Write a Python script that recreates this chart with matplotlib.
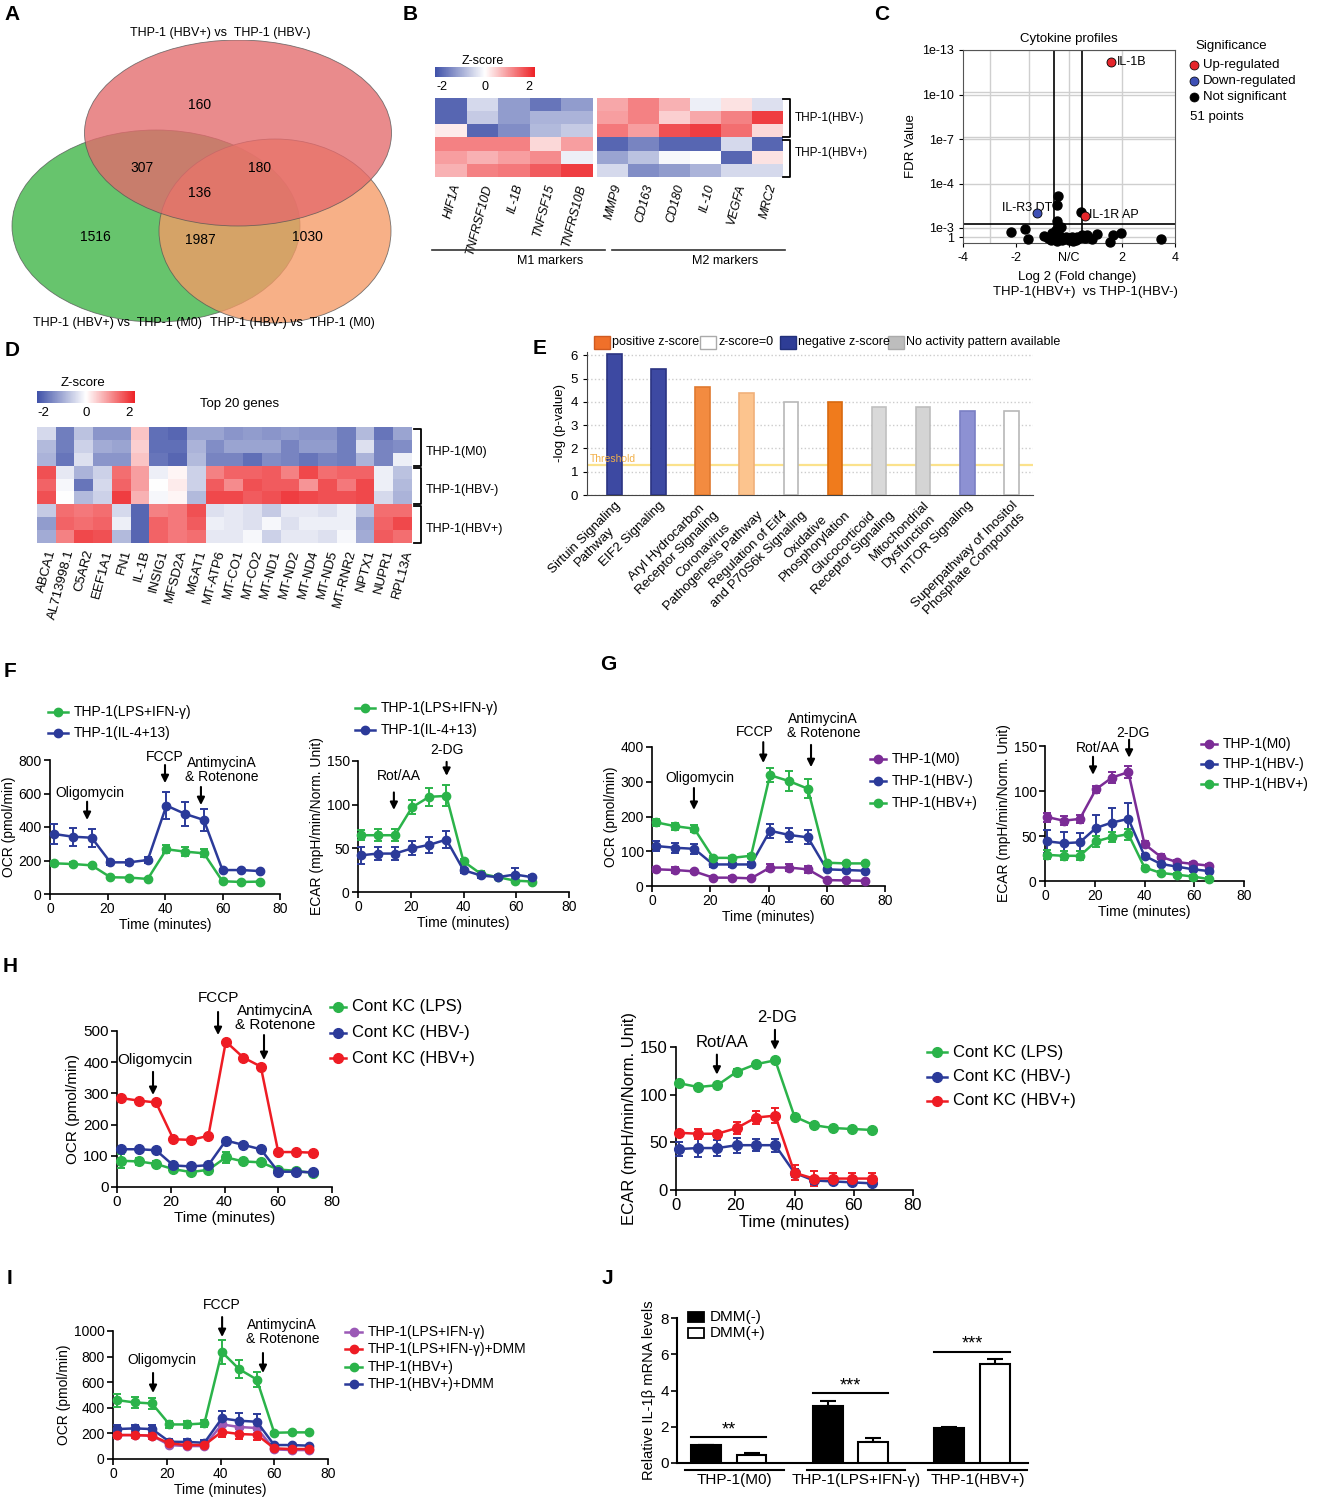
import numpy as np
import matplotlib
matplotlib.use('Agg')
import matplotlib.pyplot as plt
from matplotlib.patches import Ellipse, Rectangle
from matplotlib.lines import Line2D
from matplotlib.colors import LinearSegmentedColormap

plt.rcParams['font.family'] = ['Liberation Sans', 'DejaVu Sans']
plt.rcParams['axes.unicode_minus'] = False

# ---------------- data ----------------
venn_counts = [160, 307, 136, 180, 1516, 1987, 1030]
venn_sets = ['THP-1 (HBV+) vs  THP-1 (HBV-)', 'THP-1 (HBV+) vs  THP-1 (M0)', 'THP-1 (HBV-) vs  THP-1 (M0)']

b_m1 = ['HIF1A', 'TNFRSF10D', 'IL-1B', 'TNFSF15', 'TNFRS10B']
b_m2 = ['MMP9', 'CD163', 'CD180', 'IL-10', 'VEGFA', 'MRC2']
b_z_m1 = [[-2.0, -0.5, -1.3, -1.8, -1.3],
          [-2.0, -0.7, -1.3, -1.0, -1.0],
          [0.2, -2.0, -1.5, -0.9, -0.7],
          [1.3, 1.3, 1.3, 0.4, 1.0],
          [1.0, 0.8, 1.0, 1.2, -0.2],
          [0.8, 1.3, 1.4, 1.7, 2.0]]
b_z_m2 = [[0.9, 1.3, 0.8, -0.2, 0.3, -0.4],
          [1.0, 1.3, 0.5, 0.9, 1.3, 2.0],
          [1.4, 1.0, 1.8, 2.0, 1.5, 0.4],
          [-2.0, -1.6, -2.0, -2.0, -0.5, -2.0],
          [-1.2, -0.8, -0.1, 0.0, -2.0, 0.3],
          [-0.5, -1.5, -1.3, -1.0, -0.5, -0.5]]

# volcano: log2 fold change, -log10(FDR)
ns_x = [-2.19, -1.65, -1.56, -0.94, -0.81, -0.63, -0.69, -0.5, -0.44, -0.44, -0.41, -0.31, -0.37, -0.25,
        -0.125, 0.0, 0.125, 0.25, 0.44, 0.375, 0.5, 0.69, 0.85, 1.06, 1.56, 1.66, 1.98, 3.48,
        -0.55, -0.2, 0.05, 0.3, -0.6, -0.3, 0.15, -0.05, 0.6, -0.45]
ns_y = [1.77, 2.67, -0.77, 0.33, -0.43, 1.23, -1.0, 2.33, 3.17, 3.52, 3.73, 3.03, 0.67, -1.0,
        0.1, -1.0, -0.1, -1.0, 3.37, -0.43, 0.67, 0.67, -0.77, 0.9, -1.57, 0.67, 1.23, -0.67,
        -0.67, -0.5, -0.83, 0.0, 0.17, -0.67, -1.17, -0.33, -0.33, -1.17]
up_names = ['IL-1B', 'IL-1R AP']
up_x = [1.6, 0.62]
up_y = [12.2, 3.27]
down_names = ['IL-R3 DT']
down_x = [-1.2]
down_y = [3.34]

d_genes = ['ABCA1', 'AL713998.1', 'C5AR2', 'EEF1A1', 'FN1', 'IL-1B', 'INSIG1', 'MFSD2A', 'MGAT1', 'MT-ATP6',
           'MT-CO1', 'MT-CO2', 'MT-ND1', 'MT-ND2', 'MT-ND4', 'MT-ND5', 'MT-RNR2', 'NPTX1', 'NUPR1', 'RPL13A']
d_groups = ['THP-1(M0)', 'THP-1(HBV-)', 'THP-1(HBV+)']
d_z = [[-0.5, -1.7, -0.8, -1.4, -1.4, 0.6, -1.9, -2.0, -1.2, -1.2, -1.4, -1.3, -1.4, -1.3, -1.4, -1.4, -1.7, -0.9, -1.8, -1.2],
       [-0.9, -1.7, -0.6, -1.1, -1.2, 0.5, -1.9, -1.9, -1.0, -1.5, -1.2, -1.2, -1.2, -1.6, -1.3, -1.3, -1.7, -0.4, -1.6, -1.5],
       [-1.0, -1.8, -0.4, -1.4, -1.4, 0.6, -1.8, -2.0, -0.9, -1.6, -1.6, -1.9, -1.5, -1.6, -1.8, -1.6, -1.7, -1.0, -1.6, -0.2],
       [1.8, -0.3, -1.0, -0.6, 1.5, 1.0, -0.2, 0.1, -0.6, 1.3, 1.6, 1.6, 1.7, 1.3, 1.9, 1.5, 1.6, 1.6, -0.2, -0.8],
       [1.6, -0.1, -1.8, -0.5, 1.6, 1.0, 0.0, 0.2, -0.6, 1.7, 1.2, 1.8, 1.7, 1.7, 1.1, 1.8, 1.4, 1.9, -0.2, -0.9],
       [1.8, 0.0, -0.9, -0.6, 2.0, 0.8, -0.1, 0.1, -0.9, 1.9, 1.9, 1.7, 1.8, 2.0, 1.9, 1.8, 1.8, 1.9, -0.5, -1.0],
       [-0.7, 1.5, 1.4, 1.5, -0.5, -2.0, 1.3, 1.4, 1.8, -0.4, -0.3, -0.4, -0.7, -0.3, -0.3, -0.4, -0.2, -0.8, 1.5, 1.5],
       [-1.3, 1.6, 1.5, 1.6, -0.2, -2.0, 1.6, 1.4, 1.7, -0.2, -0.3, -0.4, -0.1, -0.4, -0.2, -0.2, -0.2, -1.2, 1.6, 1.9],
       [-1.1, 1.3, 1.9, 1.8, -0.9, -2.0, 1.6, 1.4, 1.5, -0.3, -0.3, -0.1, -0.6, -0.3, -0.3, -0.4, -0.1, -1.1, 1.7, 1.5]]

e_paths = ['Sirtuin Signaling\nPathway', 'EIF2 Signaling', 'Aryl Hydrocarbon\nReceptor Signaling',
           'Coronavirus\nPathogenesis Pathway', 'Regulation of Eif4\nand P70S6k Signaling', 'Oxidative\nPhosphorylation',
           'Glucocorticoid\nReceptor Signaling', 'Mitochondrial\nDysfunction', 'mTOR Signaling',
           'Superpathway of Inositol\nPhosphate Compounds']
e_logp = [6.05, 5.4, 4.65, 4.4, 4.02, 3.98, 3.8, 3.77, 3.62, 3.62]
e_colors = ['#3d49a2', '#3d49a2', '#f38b40', '#fcc48e', 'white', '#f07b1c', '#d9d9d9', '#d4d4d4', '#8d91d3', 'white']
e_edges = ['#2b3482', '#2b3482', '#e07a30', '#f0b07a', '#b8b8b8', '#d86a10', '#c0c0c0', '#bdbdbd', '#7a7fc4', '#b8b8b8']

t_ocr = [1.5, 8, 14.5, 21, 27.5, 34, 40.5, 47, 53.5, 60, 66.5, 73]
t_ecar = [1, 7.5, 14, 20.5, 27, 33.5, 40, 46.5, 53, 59.5, 66]

# F
f_labels = ['THP-1(LPS+IFN-γ)', 'THP-1(IL-4+13)']
f_ocr_lps = [183, 179, 171, 100, 98, 90, 267, 253, 243, 76, 72, 74]
f_ocr_lps_err = [15, 12, 10, 5, 5, 5, 25, 25, 25, 5, 5, 5]
f_ocr_il4 = [358, 342, 336, 189, 189, 203, 528, 478, 442, 143, 143, 137]
f_ocr_il4_err = [60, 55, 55, 15, 15, 20, 80, 70, 65, 5, 5, 5]
f_ecar_lps = [65, 65, 65, 97, 109, 110, 35, 21, 17, 13, 12]
f_ecar_lps_err = [6, 7, 7, 8, 10, 12, 3, 3, 2, 2, 2]
f_ecar_il4 = [42, 44, 44, 50, 54, 60, 25, 19, 17, 20, 17]
f_ecar_il4_err = [10, 7, 7, 8, 9, 10, 3, 3, 2, 7, 3]

# G
g_labels = ['THP-1(M0)', 'THP-1(HBV-)', 'THP-1(HBV+)']
g_ocr_m0 = [48, 46, 42, 24, 24, 22, 53, 53, 48, 17, 16, 15]
g_ocr_m0_err = [8, 8, 5, 4, 4, 4, 10, 10, 10, 3, 3, 3]
g_ocr_neg = [115, 110, 107, 62, 62, 62, 159, 147, 140, 48, 46, 44]
g_ocr_neg_err = [15, 15, 15, 6, 6, 6, 20, 20, 20, 3, 3, 3]
g_ocr_pos = [183, 172, 165, 81, 81, 87, 319, 302, 280, 67, 65, 65]
g_ocr_pos_err = [10, 10, 10, 5, 5, 5, 20, 28, 28, 3, 3, 3]
g_ecar_m0 = [71, 67, 69, 102, 115, 121, 41, 27, 21, 19, 17]
g_ecar_m0_err = [5, 5, 4, 4, 6, 7, 3, 3, 2, 2, 2]
g_ecar_neg = [44, 42, 43, 59, 65, 69, 28, 19, 16, 13, 11]
g_ecar_neg_err = [13, 13, 10, 14, 16, 18, 2, 2, 2, 2, 2]
g_ecar_pos = [29, 28, 28, 44, 49, 52, 15, 9, 7, 5, 2]
g_ecar_pos_err = [5, 5, 5, 6, 6, 6, 2, 2, 2, 2, 2]

# H
h_labels = ['Cont KC (LPS)', 'Cont KC (HBV-)', 'Cont KC (HBV+)']
h_ocr_lps = [84, 82, 74, 57, 48, 55, 95, 82, 79, 56, 52, 45]
h_ocr_lps_err = [22, 12, 8, 5, 5, 5, 18, 5, 8, 5, 5, 5]
h_ocr_neg = [121, 121, 118, 69, 66, 70, 149, 135, 121, 49, 49, 47]
h_ocr_neg_err = [5, 5, 5, 4, 4, 4, 6, 5, 5, 3, 3, 3]
h_ocr_pos = [285, 277, 271, 153, 151, 164, 466, 415, 386, 112, 112, 110]
h_ocr_pos_err = [5, 5, 5, 5, 5, 5, 6, 6, 6, 4, 4, 4]
h_ecar_lps = [112, 108, 110, 124, 132, 136, 77, 68, 65, 64, 63]
h_ecar_lps_err = [2, 2, 2, 3, 2, 2, 2, 2, 2, 2, 2]
h_ecar_neg = [43, 44, 44, 47, 47, 47, 18, 10, 9, 8, 7]
h_ecar_neg_err = [7, 9, 8, 8, 6, 7, 4, 4, 3, 3, 2]
h_ecar_pos = [60, 59, 59, 65, 76, 78, 18, 12, 12, 12, 12]
h_ecar_pos_err = [2, 5, 3, 6, 7, 8, 8, 8, 6, 6, 6]

# I
i_labels = ['THP-1(LPS+IFN-γ)', 'THP-1(LPS+IFN-γ)+DMM', 'THP-1(HBV+)', 'THP-1(HBV+)+DMM']
i_lps = [187, 187, 182, 109, 101, 101, 270, 250, 242, 75, 70, 70]
i_lps_err = [25, 25, 25, 10, 10, 10, 40, 40, 40, 5, 5, 5]
i_lps_dmm = [187, 187, 182, 122, 109, 109, 213, 195, 190, 83, 78, 78]
i_lps_dmm_err = [20, 25, 25, 10, 10, 10, 45, 40, 40, 10, 5, 5]
i_hbv = [460, 442, 434, 270, 270, 278, 836, 701, 621, 205, 208, 208]
i_hbv_err = [50, 40, 40, 30, 25, 25, 90, 70, 60, 5, 5, 5]
i_hbv_dmm = [234, 239, 234, 135, 133, 127, 317, 299, 291, 109, 109, 104]
i_hbv_dmm_err = [30, 30, 30, 20, 20, 20, 60, 60, 60, 5, 5, 5]

# J
j_groups = ['THP-1(M0)', 'THP-1(LPS+IFN-γ)', 'THP-1(HBV+)']
j_dmm_neg = [1.0, 3.12, 1.95]
j_dmm_neg_err = [0.0, 0.3, 0.06]
j_dmm_pos = [0.42, 1.18, 5.45]
j_dmm_pos_err = [0.12, 0.2, 0.28]
j_sig = ['**', '***', '***']

# ---------------- figure ----------------
W, H = 1317, 1500
fig = plt.figure(figsize=(W / 100, H / 100), dpi=100)


def px_ax(x0, y0, x1, y1):
    return fig.add_axes([x0 / W, 1 - y1 / H, (x1 - x0) / W, (y1 - y0) / H])


def fx(x):
    return x / W


def fy(y):
    return 1 - y / H


def fline(xs, ys, **kw):
    fig.add_artist(Line2D([fx(v) for v in xs], [fy(v) for v in ys], transform=fig.transFigure, **kw))


def legend_px(labels, colors, x, y, dy, fs, length=20, ms=6):
    for i, (lab, c) in enumerate(zip(labels, colors)):
        yy = y + i * dy
        fline([x, x + length], [yy, yy], color=c, lw=1.8)
        fline([x + length / 2], [yy], color=c, marker='o', ms=ms, ls='')
        fig.text(fx(x + length + 6), fy(yy), lab, va='center', ha='left', fontsize=fs)


def bracket(x0, x1, y0, y1):
    fline([x0, x1, x1, x0], [y0, y0, y1, y1], color='k', lw=1.3)


zcmap = LinearSegmentedColormap.from_list('z', ['#3f51a8', '#ffffff', '#ed2226'])

for lab, (x, y) in zip('ABCDEFGHIJ', [(12, 15), (410, 15), (882, 15), (12, 350), (540, 348),
                                      (10, 672), (608, 665), (10, 966), (10, 1278), (607, 1278)]):
    fig.text(fx(x), fy(y), lab, fontsize=15, fontweight='bold', va='center', ha='center')

# ---- A: Venn ----
axA = px_ax(0, 40, 400, 330)
axA.set_xlim(0, 400)
axA.set_ylim(330, 40)
axA.axis('off')
for (cx, cy, w, h), c in zip([(156, 226, 288, 192), (275, 231, 232, 184), (238, 133, 307, 186)],
                             ['#3cb444', '#f59a66', '#e46a6c']):
    axA.add_patch(Ellipse((cx, cy), w, h, fc=c, ec='#555555', lw=0.6, alpha=0.78))
for n, (x, y) in zip(venn_counts, [(200, 105), (142, 168), (200, 193), (260, 168), (95, 237), (200, 240), (307, 237)]):
    axA.text(x, y, str(n), ha='center', va='center', fontsize=10)
fig.text(fx(220), fy(33), venn_sets[0], ha='center', va='center', fontsize=9)
fig.text(fx(117), fy(323), venn_sets[1], ha='center', va='center', fontsize=9)
fig.text(fx(292), fy(323), venn_sets[2], ha='center', va='center', fontsize=9)

# ---- B: heatmap ----
for rect, z, genes in [((435, 98, 593, 177), b_z_m1, b_m1), ((597, 98, 783, 177), b_z_m2, b_m2)]:
    ax = px_ax(*rect)
    imB = ax.imshow(np.array(z), cmap=zcmap, vmin=-2.3, vmax=2.3, aspect='auto')
    ax.set_yticks([])
    ax.set_xticks(range(len(genes)))
    ax.set_xticklabels(genes, rotation=75, ha='right', rotation_mode='anchor', fontsize=9, style='italic')
    ax.tick_params(length=0, pad=4)
    for s in ax.spines.values():
        s.set_visible(False)
caxB = px_ax(435, 67, 535, 77)
cbB = fig.colorbar(imB, cax=caxB, orientation='horizontal', ticks=[-2, 0, 2])
cbB.outline.set_visible(False)
caxB.tick_params(length=0, labelsize=9, pad=3)
fig.text(fx(483), fy(61), 'Z-score', ha='center', va='center', fontsize=9)
bracket(783, 790, 99, 137)
bracket(783, 790, 140, 177)
fig.text(fx(795), fy(118), 'THP-1(HBV-)', va='center', fontsize=8.5)
fig.text(fx(795), fy(153), 'THP-1(HBV+)', va='center', fontsize=8.5)
fline([432, 605], [250, 250], color='#333333', lw=1.2)
fline([612, 785], [250, 250], color='#333333', lw=1.2)
fig.text(fx(550), fy(261), 'M1 markers', ha='center', va='center', fontsize=9)
fig.text(fx(725), fy(261), 'M2 markers', ha='center', va='center', fontsize=9)

# ---- C: volcano ----
axC = px_ax(963, 50, 1175, 243)
yd = [-2, 0, 3, 4, 13]
yp = [-6, 0, 9, 53, 187]
axC.set_yscale('function', functions=(lambda v: np.interp(v, yd, yp), lambda v: np.interp(v, yp, yd)))
axC.set_xlim(-4, 4)
axC.set_ylim(-2, 13)
for gx in [-3, -1.5, 0, 2]:
    axC.axvline(gx, color='#cfcfcf', lw=1, zorder=0)
for gy in [0, 3, 4, 7, 7.15, 10, 10.15, 13]:
    axC.axhline(gy, color='#cfcfcf', lw=1, zorder=0)
axC.axvline(-0.55, color='k', lw=1.2, zorder=1)
axC.axvline(0.5, color='k', lw=1.2, zorder=1)
axC.axhline(3.09, color='k', lw=1.2, zorder=1)
axC.scatter(ns_x, ns_y, s=42, c='k', zorder=3, clip_on=False)
axC.scatter(up_x, up_y, s=42, c='#e5262b', edgecolors='k', linewidths=0.6, zorder=4)
axC.scatter(down_x, down_y, s=42, c='#3e50b5', edgecolors='k', linewidths=0.6, zorder=4)
axC.text(up_x[0] + 0.2, up_y[0], up_names[0], va='center', fontsize=9)
axC.text(up_x[1] + 0.12, up_y[1] + 0.03, up_names[1], va='center', fontsize=9)
axC.text(down_x[0] + 0.55, down_y[0] + 0.12, down_names[0], va='center', ha='right', fontsize=9)
axC.set_xticks([-4, -2, 0, 2, 4])
axC.set_xticklabels(['-4', '-2', 'N/C', '2', '4'])
axC.set_yticks([0, 3, 4, 7, 10, 13])
axC.set_yticklabels(['1', '1e-3', '1e-4', '1e-7', '1e-10', '1e-13'])
axC.tick_params(labelsize=9, length=3)
for s in axC.spines.values():
    s.set_color('#555555')
axC.set_ylabel('FDR Value', fontsize=9.5, labelpad=4)
axC.set_title('Cytokine profiles', fontsize=9.5, pad=6)
fig.text(fx(1077), fy(277), 'Log 2 (Fold change)', ha='center', va='center', fontsize=9.5)
fig.text(fx(1085), fy(292), 'THP-1(HBV+)  vs THP-1(HBV-)', ha='center', va='center', fontsize=9.5)
fig.text(fx(1195), fy(46), 'Significance', va='center', fontsize=9.5)
for i, (lab, c) in enumerate(zip(['Up-regulated', 'Down-regulated', 'Not significant'], ['#e5262b', '#3e50b5', 'k'])):
    fline([1194], [65 + i * 16], marker='o', ms=6.5, color=c, mec='k', mew=0.5, ls='')
    fig.text(fx(1203), fy(65 + i * 16), lab, va='center', fontsize=9.5)
fig.text(fx(1190), fy(117), '51 points', va='center', fontsize=9.5)

# ---- D: heatmap ----
axD = px_ax(37, 427, 412, 543)
imD = axD.imshow(np.array(d_z), cmap=zcmap, vmin=-2.3, vmax=2.3, aspect='auto')
axD.set_yticks([])
axD.set_xticks(range(len(d_genes)))
axD.set_xticklabels(d_genes, rotation=75, ha='right', rotation_mode='anchor', fontsize=9.5)
axD.tick_params(length=0, pad=4)
for s in axD.spines.values():
    s.set_visible(False)
caxD = px_ax(37, 391, 135, 403)
cbD = fig.colorbar(imD, cax=caxD, orientation='horizontal', ticks=[-2, 0, 2])
cbD.outline.set_visible(False)
caxD.tick_params(length=0, labelsize=9.5, pad=3)
fig.text(fx(83), fy(383), 'Z-score', ha='center', va='center', fontsize=9.5)
fig.text(fx(240), fy(404), 'Top 20 genes', ha='center', va='center', fontsize=9.5)
for i, g in enumerate(d_groups):
    y0 = 428 + i * 38.5
    bracket(414, 421, y0 + 1, y0 + 37.5)
    fig.text(fx(426), fy(y0 + 24), g, va='center', fontsize=9)

# ---- E: bar chart ----
axE = px_ax(587, 352, 1033, 495)
xe = np.arange(len(e_logp))
axE.bar(xe, e_logp, width=0.33, color=e_colors, edgecolor=e_edges, lw=1.2, zorder=3)
axE.set_xlim(-0.62, 9.49)
axE.set_ylim(0, 6.15)
axE.set_yticks(range(7))
axE.yaxis.grid(True, ls=':', color='#cccccc', lw=1)
axE.set_axisbelow(True)
axE.axhline(1.3, color='#fbe28c', lw=1.6, zorder=2)
axE.text(-0.55, 1.55, 'Threshold', color='#f2b04a', fontsize=7.5, va='center', zorder=4)
axE.spines[['top', 'right']].set_visible(False)
axE.spines['left'].set_color('#444444')
axE.spines['bottom'].set_color('#444444')
axE.set_xticks(xe)
axE.set_xticklabels(e_paths, rotation=45, ha='right', rotation_mode='anchor', fontsize=9.5, multialignment='center')
axE.tick_params(axis='x', length=0, pad=3)
axE.tick_params(axis='y', labelsize=9.5, length=3)
axE.set_ylabel('-log (p-value)', fontsize=9.5, labelpad=3)
for x0, fc, ec, lab in [(594, '#f0702a', '#d05a20', 'positive z-score'), (700, 'white', '#aaaaaa', 'z-score=0'),
                        (780, '#2e3d96', '#22307a', 'negative z-score'), (888, '#bdbdbd', '#aaaaaa', 'No activity pattern available')]:
    fig.add_artist(Rectangle((fx(x0), fy(349)), 16 / W, 13 / H, transform=fig.transFigure, fc=fc, ec=ec, lw=1))
    fig.text(fx(x0 + 18), fy(342), lab, va='center', fontsize=9)


# ---- seahorse helper ----
def seahorse(rect, t, series, ymax, ystep, ylabel, fs=10, ms=6):
    ax = px_ax(*rect)
    for y, e, c in series:
        ax.errorbar(t, y, yerr=e, color=c, marker='o', ms=ms, lw=1.8, elinewidth=1.4,
                    capsize=3, capthick=1.4, clip_on=False, zorder=3)
    ax.set_xlim(0, 80)
    ax.set_ylim(0, ymax)
    ax.set_xticks(range(0, 81, 20))
    ax.set_yticks(np.arange(0, ymax + 1, ystep))
    ax.spines[['top', 'right']].set_visible(False)
    for s in ['left', 'bottom']:
        ax.spines[s].set_linewidth(1.2)
    ax.tick_params(labelsize=fs, width=1.2, length=4, pad=2)
    ax.set_xlabel('Time (minutes)', fontsize=fs, labelpad=1)
    ax.set_ylabel(ylabel, fontsize=fs, labelpad=2)
    return ax


def arrow(ax, x, y_tail, y_head, text=None, tx=None, ty=None, fs=10):
    ax.annotate('', xy=(x, y_head), xytext=(x, y_tail), annotation_clip=False,
                arrowprops=dict(arrowstyle='-|>', color='k', lw=1.5, mutation_scale=11, shrinkA=0, shrinkB=0))
    if text:
        ax.text(x if tx is None else tx, ty, text, ha='center', va='center', fontsize=fs, clip_on=False,
                linespacing=1.0)


GREEN, BLUE, PURPLE, RED = '#2bb34a', '#2b3a99', '#7b2c96', '#ee1c24'
OCR = 'OCR (pmol/min)'
ECAR = 'ECAR (mpH/min/Norm. Unit)'

# F
ax = seahorse((50, 760, 280, 894), t_ocr, [(f_ocr_lps, f_ocr_lps_err, GREEN), (f_ocr_il4, f_ocr_il4_err, BLUE)], 800, 200, OCR)
arrow(ax, 12.9, 551, 442, 'Oligomycin', 13.9, 603)
arrow(ax, 40, 770, 662, 'FCCP', 40, 818)
arrow(ax, 52.5, 639, 531, 'AntimycinA\n& Rotenone', 59.8, 740)
legend_px(f_labels, [GREEN, BLUE], 48, 712, 21, 10)
ax = seahorse((358, 761, 569, 892), t_ecar, [(f_ecar_lps, f_ecar_lps_err, GREEN), (f_ecar_il4, f_ecar_il4_err, BLUE)], 150, 50, ECAR)
arrow(ax, 13.6, 114, 94, 'Rot/AA', 15.5, 133)
arrow(ax, 33.6, 149, 133, '2-DG', 33.6, 163)
legend_px(f_labels, [GREEN, BLUE], 355, 708, 22, 10)

# G
ax = seahorse((652, 747, 885, 886), t_ocr, [(g_ocr_m0, g_ocr_m0_err, PURPLE), (g_ocr_neg, g_ocr_neg_err, BLUE),
                                           (g_ocr_pos, g_ocr_pos_err, GREEN)], 400, 100, OCR)
arrow(ax, 14.4, 282, 219, 'Oligomycin', 16.5, 311)
arrow(ax, 38.2, 414, 354, 'FCCP', 35.4, 443)
arrow(ax, 54.6, 406, 342, 'AntimycinA\n& Rotenone', 58.8, 459)
legend_px(g_labels, [PURPLE, BLUE, GREEN], 870, 759, 22, 10, length=16)
ax = seahorse((1045, 746, 1244, 881), t_ecar, [(g_ecar_m0, g_ecar_m0_err, PURPLE), (g_ecar_neg, g_ecar_neg_err, BLUE),
                                               (g_ecar_pos, g_ecar_pos_err, GREEN)], 150, 50, ECAR)
arrow(ax, 19.3, 138, 118, 'Rot/AA', 21.3, 148)
arrow(ax, 33.8, 157, 137, '2-DG', 35.4, 164)
legend_px(g_labels, [PURPLE, BLUE, GREEN], 1201, 744, 20, 10, length=16)

# H
ax = seahorse((117, 1031, 332, 1187), t_ocr, [(h_ocr_lps, h_ocr_lps_err, GREEN), (h_ocr_neg, h_ocr_neg_err, BLUE),
                                             (h_ocr_pos, h_ocr_pos_err, RED)], 500, 100, OCR, fs=11, ms=7)
arrow(ax, 13.4, 369, 295, 'Oligomycin', 14.1, 407, fs=11)
arrow(ax, 37.6, 561, 487, 'FCCP', 37.6, 606, fs=11)
arrow(ax, 54.7, 487, 407, 'AntimycinA\n& Rotenone', 58.9, 542, fs=11)
legend_px(h_labels, [GREEN, BLUE, RED], 330, 1007, 25.5, 12, length=16, ms=7)
ax = seahorse((676, 1047, 913, 1190), t_ecar, [(h_ecar_lps, h_ecar_lps_err, GREEN), (h_ecar_neg, h_ecar_neg_err, BLUE),
                                               (h_ecar_pos, h_ecar_pos_err, RED)], 150, 50, ECAR, fs=12, ms=7)
arrow(ax, 13.8, 142, 121, 'Rot/AA', 15.5, 155, fs=12)
arrow(ax, 33.4, 168, 147, '2-DG', 34, 181, fs=12)
legend_px(h_labels, [GREEN, BLUE, RED], 927, 1052, 24.5, 12, length=20, ms=7)

# I
ax = seahorse((113, 1331, 328, 1459), t_ocr, [(i_lps, i_lps_err, '#9b59b6'), (i_hbv, i_hbv_err, GREEN),
                                             (i_hbv_dmm, i_hbv_dmm_err, BLUE), (i_lps_dmm, i_lps_dmm_err, RED)],
              1000, 200, OCR)
arrow(ax, 14.9, 672, 516, 'Oligomycin', 18.2, 773)
arrow(ax, 40.6, 1109, 953, 'FCCP', 40.6, 1203)
arrow(ax, 55.8, 828, 672, 'AntimycinA\n& Rotenone', 63, 996)
legend_px(i_labels, ['#9b59b6', RED, GREEN, BLUE], 345, 1332, 17.3, 10, length=17)

# ---- J: bars ----
axJ = px_ax(677, 1318, 1028, 1463)
xj = np.arange(len(j_groups))
off, bw = 0.187, 0.246
axJ.bar(xj - off, j_dmm_neg, bw, color='k', edgecolor='k', lw=1.5, zorder=3)
axJ.bar(xj + off, j_dmm_pos, bw, color='white', edgecolor='k', lw=1.5, zorder=3)
axJ.errorbar(xj - off, j_dmm_neg, yerr=[np.zeros(3), j_dmm_neg_err], fmt='none', ecolor='k', capsize=6,
             elinewidth=1.5, capthick=1.5, zorder=2)
axJ.errorbar(xj + off, j_dmm_pos, yerr=[np.zeros(3), j_dmm_pos_err], fmt='none', ecolor='k', capsize=6,
             elinewidth=1.5, capthick=1.5, zorder=2)
for i, s in enumerate(j_sig):
    top = max(j_dmm_neg[i] + j_dmm_neg_err[i], j_dmm_pos[i] + j_dmm_pos_err[i]) + 0.42
    axJ.plot([i - off - bw / 2, i + off + bw / 2], [top, top], color='k', lw=1.5)
    axJ.text(i, top - 0.05, s, ha='center', va='bottom', fontsize=13)
    axJ.plot([i - 0.36, i + 0.45], [-0.37, -0.37], color='k', lw=1.5, clip_on=False)
    axJ.text(i + 0.05, -0.95, j_groups[i], ha='center', va='center', fontsize=11, clip_on=False)
axJ.set_xlim(-0.425, 2.458)
axJ.set_ylim(0, 8)
axJ.set_yticks(range(0, 9, 2))
axJ.set_xticks([])
axJ.spines[['top', 'right']].set_visible(False)
for s in ['left', 'bottom']:
    axJ.spines[s].set_linewidth(1.5)
axJ.tick_params(labelsize=11, width=1.2, length=4, pad=2)
axJ.set_ylabel('Relative IL-1β mRNA levels', fontsize=10.5, labelpad=3)
for i, (fc, lab) in enumerate([('k', 'DMM(-)'), ('white', 'DMM(+)')]):
    fig.add_artist(Rectangle((fx(688), fy(1322 + i * 16)), 16 / W, 10 / H, transform=fig.transFigure,
                             fc=fc, ec='k', lw=1.3))
    fig.text(fx(710), fy(1317 + i * 16), lab, va='center', fontsize=11)

fig.savefig('out.png', dpi=100)
